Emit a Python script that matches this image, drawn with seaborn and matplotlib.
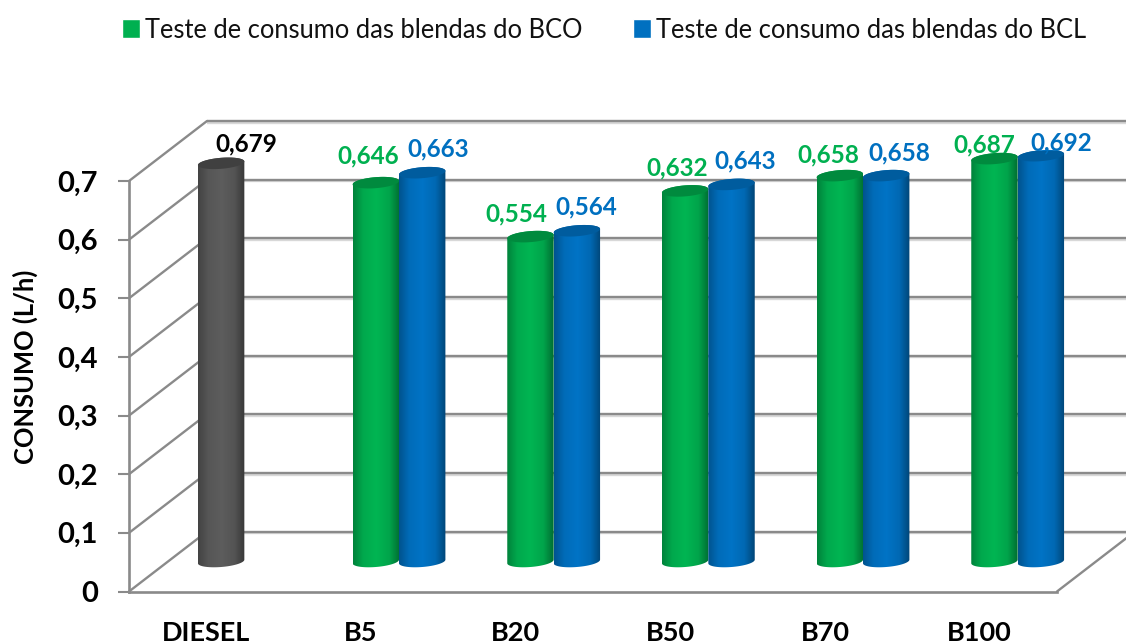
import numpy as np
import pandas as pd
import seaborn as sns
import matplotlib
matplotlib.use("Agg")
import matplotlib.pyplot as plt
import matplotlib.patheffects as pe
from matplotlib.colors import to_rgb
from matplotlib.path import Path
from matplotlib.patches import PathPatch, Polygon

categories = ["DIESEL", "B5", "B20", "B50", "B70", "B100"]
bco_values = [0.679, 0.646, 0.554, 0.632, 0.658, 0.687]
bcl_values = [np.nan, 0.663, 0.564, 0.643, 0.658, 0.692]
bco_name = "Teste de consumo das blendas do BCO"
bcl_name = "Teste de consumo das blendas do BCL"
y_ticks = [0, 0.1, 0.2, 0.3, 0.4, 0.5, 0.6, 0.7]
y_tick_labels = ["0", "0,1", "0,2", "0,3", "0,4", "0,5", "0,6", "0,7"]

GREEN = "#00B050"
BLUE = "#0070C0"
GREY = "#5A5A5A"
LINE = "#8A8A8A"

# label shift from the bar top, pixels (placed by hand in the original)
bco_label_shift = [(25, 19), (-8, 27), (-14, 23), (-8, 23), (-11, 21), (-10, 14)]
bcl_label_shift = [(0, 0), (16, 24), (9, 24), (14, 24), (13, 23), (20, 13)]

W, H = 1126, 644
# front plane of the fake 3d box, pixels
LEFT, RIGHT, TOP, BOTTOM = 129, 1057, 181, 591.5
DEPTH_X, DEPTH_Y = 78, 60

sns.set_theme(style="white")
plt.rcParams["font.family"] = ["Lato", "DejaVu Sans"]


def box(left, right, top, bottom):
    return [left / W, 1 - bottom / H, (right - left) / W, (bottom - top) / H]


fig = plt.figure(figsize=(W / 100, H / 100), dpi=100)
ax = fig.add_axes(box(LEFT, RIGHT, TOP, BOTTOM), zorder=1)
# bars stand half way into the box
ax_bars = fig.add_axes(box(LEFT + DEPTH_X / 2 - 1, RIGHT + DEPTH_X / 2 - 1,
                           TOP - DEPTH_Y / 2, BOTTOM - DEPTH_Y / 2), zorder=2)
ax_bars.patch.set_alpha(0)

px_x = (RIGHT - LEFT) / len(categories)
px_y = (BOTTOM - TOP) / 0.7
xlim = (-0.5, len(categories) - 0.5)
ylim = (0, 0.7)

# walls
shadow = [pe.SimpleLineShadow(offset=(0, -1.3), shadow_color="#CFCFCF", alpha=0.8), pe.Normal()]
back_dx = DEPTH_X / px_x
back_dy = DEPTH_Y / px_y
for v in y_ticks:
    ax.plot([xlim[0] + back_dx, xlim[1] + back_dx], [v + back_dy, v + back_dy], color=LINE,
            lw=1.7, clip_on=False, path_effects=shadow, solid_capstyle="butt")
    ax.plot([xlim[0], xlim[0] + back_dx], [v, v + back_dy], color=LINE, lw=1.7, clip_on=False)
ax.plot([xlim[1], xlim[1] + back_dx], [0, back_dy], color=LINE, lw=1.7, clip_on=False)

ax.set_xlim(xlim)
ax.set_ylim(ylim)
ax.set_xticks(range(len(categories)))
ax.set_xticklabels(categories, fontsize=19.5, fontweight="bold", color="black")
ax.set_yticks(y_ticks)
ax.set_yticklabels(y_tick_labels, fontsize=21, fontweight="bold", color="black")
ax.tick_params(axis="x", length=0, pad=21)
ax.tick_params(axis="y", left=True, length=8, width=1.5, color=LINE, pad=14.5)
ax.set_ylabel("CONSUMO (L/h)", fontsize=18.4, fontweight="bold", color="black")
ax.yaxis.set_label_coords((38 - LEFT) / (RIGHT - LEFT), 0.547)
sns.despine(ax=ax)
for side in ["left", "bottom"]:
    ax.spines[side].set_color(LINE)
    ax.spines[side].set_linewidth(1.9)

df = pd.DataFrame({
    "ensaio": categories * 2,
    "consumo": bco_values + bcl_values,
    "serie": [bco_name] * len(categories) + [bcl_name] * len(categories),
})
sns.barplot(data=df, x="ensaio", y="consumo", hue="serie", hue_order=[bco_name, bcl_name],
            palette=[GREEN, BLUE], width=0.6, gap=0, errorbar=None, saturation=1,
            ax=ax_bars)

CAP_B = 5.5 / px_y
CAP_K = 1.8 / px_y
shade_pos = [0, 0.22, 0.5, 0.78, 1]
shade_val = [0.74, 0.96, 1.03, 0.93, 0.62]
cap_dark = {GREEN: "#008A3E", BLUE: "#005C9E", GREY: "#404040"}
rgb_to_name = {to_rgb(c): c for c in [GREEN, BLUE]}


def cylinder(patch, color, zorder):
    x0 = patch.get_x()
    w = patch.get_width()
    val = patch.get_height()
    cx = x0 + w / 2

    def arc(t, y):
        return np.column_stack([cx + w / 2 * np.cos(t),
                                y + CAP_B * np.sin(t) + CAP_K * np.cos(t)])

    low = arc(np.linspace(np.pi, 2 * np.pi, 50), 0)
    high = arc(np.linspace(0, np.pi, 50), val)
    body = np.vstack([low, high, low[:1]])
    clip = PathPatch(Path(body), transform=ax_bars.transData, fc="none", ec="none")
    clip.set_clip_on(False)
    ax_bars.add_patch(clip)

    s = np.linspace(0, 1, 128)
    shade = np.interp(s, shade_pos, shade_val)[None, :, None]
    img = np.clip(np.array(to_rgb(color))[None, None, :] * shade, 0, 1)
    im = ax_bars.imshow(img, extent=(x0, x0 + w, -2 * CAP_B, val + 2 * CAP_B), aspect="auto",
                        zorder=zorder, interpolation="bilinear")
    im.set_clip_box(fig.bbox)
    im.set_clip_path(clip)

    ax_bars.add_patch(Polygon(arc(np.linspace(0, 2 * np.pi, 100), val), closed=True,
                              fc=cap_dark[color], ec="none", zorder=zorder + 0.1))
    patch.set_visible(False)


bars = [p for p in ax_bars.patches if p.get_height() > 0]
bars = sorted(bars, key=lambda p: p.get_x())
for i, p in enumerate(bars):
    base = to_rgb(matplotlib.colors.to_hex(p.get_facecolor()))
    color = rgb_to_name[base]
    if i == 0:
        color = GREY  # diesel point of the first series
    cylinder(p, color, 3 + i * 0.2)

ax_bars.set_xlim(xlim)
ax_bars.set_ylim(ylim)
ax_bars.axis("off")

for i, v in enumerate(bco_values):
    cx = bars[0].get_x() + bars[0].get_width() / 2 + i
    ax_bars.annotate(f"{v:.3f}".replace(".", ","), xy=(cx, v), xytext=bco_label_shift[i],
                     textcoords="offset pixels", ha="center", va="center", fontsize=17.5,
                     fontweight="bold", color="black" if i == 0 else GREEN,
                     annotation_clip=False, zorder=20)
for i, v in enumerate(bcl_values):
    if np.isnan(v):
        continue
    cx = bars[0].get_x() + bars[0].get_width() * 1.5 + i
    ax_bars.annotate(f"{v:.3f}".replace(".", ","), xy=(cx, v), xytext=bcl_label_shift[i],
                     textcoords="offset pixels", ha="center", va="center", fontsize=17.5,
                     fontweight="bold", color=BLUE, annotation_clip=False, zorder=20)

sns.move_legend(ax_bars, "center", bbox_to_anchor=(604 / W, 1 - 30 / H),
                bbox_transform=fig.transFigure, ncol=2, frameon=False, title=None,
                fontsize=18.4, handlelength=0.72, handleheight=0.72, handletextpad=0.2,
                columnspacing=1.95, borderpad=0, labelcolor="#111111")

fig.savefig("out.png", dpi=100)
